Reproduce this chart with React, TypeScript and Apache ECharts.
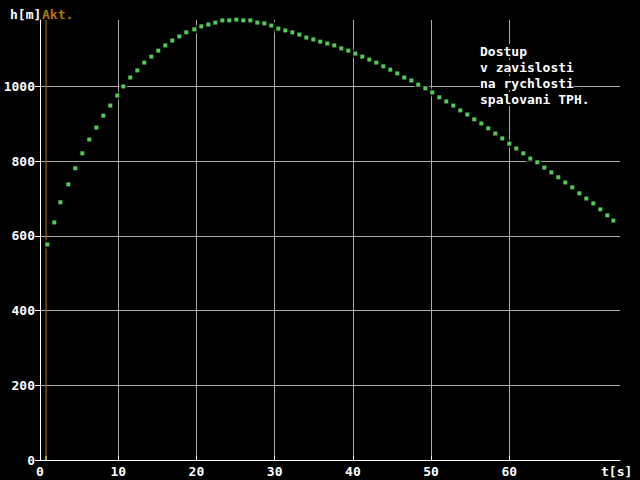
import React, { useEffect, useRef } from "react";
import * as echarts from "echarts";

// time [s] of each sample
const T_VALUES = [
  0.93, 1.83, 2.6, 3.62, 4.51, 5.41, 6.3, 7.2, 8.09, 8.99,
  9.88, 10.65, 11.54, 12.44, 13.33, 14.23, 15.12, 16.02, 16.91, 17.81,
  18.7, 19.73, 20.62, 21.52, 22.41, 23.31, 24.2, 25.1, 25.99, 26.89,
  27.78, 28.68, 29.57, 30.47, 31.36, 32.26, 33.15, 34.05, 34.94, 35.83,
  36.73, 37.62, 38.52, 39.41, 40.31, 41.2, 42.1, 42.99, 43.89, 44.78,
  45.68, 46.57, 47.47, 48.36, 49.26, 50.15, 51.05, 51.94, 52.84, 53.73,
  54.63, 55.52, 56.42, 57.31, 58.21, 59.1, 60.0, 60.89, 61.79, 62.68,
  63.58, 64.47, 65.37, 66.26, 67.16, 68.05, 68.95, 69.84, 70.74, 71.63,
  72.53, 73.3,
];

// height [m] of each sample
const H_VALUES = [
  577, 636, 690, 738, 781, 821, 858, 890, 922, 949,
  976, 1000, 1024, 1043, 1064, 1080, 1096, 1110, 1123, 1134,
  1145, 1153, 1161, 1166, 1171, 1177, 1177, 1179, 1177, 1177,
  1171, 1169, 1163, 1155, 1150, 1145, 1139, 1131, 1126, 1120,
  1115, 1110, 1102, 1096, 1088, 1080, 1072, 1064, 1054, 1045,
  1035, 1024, 1016, 1005, 995, 984, 971, 960, 949, 936,
  925, 912, 901, 888, 874, 861, 847, 834, 821, 807,
  797, 783, 770, 757, 743, 730, 714, 700, 687, 671,
  655, 641,
];

const X_TICKS = [0, 10, 20, 30, 40, 50, 60];
const Y_TICKS = [0, 200, 400, 600, 800, 1000];
const X_MAX = 74.15;
const Y_MAX = 1178;
const AKT_T = 0.77; // current time marker
const AKT_MARK_H = 11; // yellow foot of the marker

const NOTE_LINES = ["Dostup", "v zavislosti", "na rychlosti", "spalovani TPH."];

const FONT = 'bold 13px "DejaVu Sans Mono", "Liberation Mono", monospace';
const GREEN = "#66ff66";
const ORANGE = "#b4740c";
const YELLOW = "#ffff55";
const GRAY = "#aaaaaa";
const WHITE = "#ffffff";

export default function App() {
  const ref = useRef<HTMLDivElement>(null);

  useEffect(() => {
    if (!ref.current) return;
    const chart = echarts.init(ref.current, null, {
      renderer: "svg",
      width: 640,
      height: 480,
    });

    const points = T_VALUES.map((t, i) => [t, H_VALUES[i]]);
    const textStyleBase = {
      fontFamily: '"DejaVu Sans Mono", "Liberation Mono", monospace',
      fontWeight: "bold" as const,
      fontSize: 13,
      color: WHITE,
    };
    const plain = (v: number) => String(v);

    const option: any = {
      animation: false,
      backgroundColor: "#000000",
      grid: {
        left: 40,
        right: 20,
        top: 20,
        bottom: 20,
        containLabel: false,
        outerBoundsMode: "none",
      },
      xAxis: {
        type: "value",
        min: 0,
        max: X_MAX,
        interval: 10,
        axisLine: { show: true, onZero: false, lineStyle: { color: WHITE, width: 1 } },
        axisTick: {
          show: true,
          inside: true,
          length: 4,
          customValues: X_TICKS,
          lineStyle: { color: WHITE, width: 1 },
        },
        axisLabel: {
          ...textStyleBase,
          margin: 5,
          customValues: X_TICKS,
          formatter: plain,
        },
        splitLine: {
          show: true,
          showMinLine: false,
          lineStyle: { color: GRAY, width: 1 },
        },
      },
      yAxis: {
        type: "value",
        min: 0,
        max: Y_MAX,
        interval: 200,
        axisLine: { show: true, onZero: false, lineStyle: { color: WHITE, width: 1 } },
        axisTick: {
          show: true,
          inside: false,
          length: 5,
          customValues: Y_TICKS,
          lineStyle: { color: WHITE, width: 1 },
        },
        axisLabel: {
          ...textStyleBase,
          margin: 5,
          customValues: Y_TICKS,
          formatter: plain,
        },
        splitLine: {
          show: true,
          showMinLine: false,
          lineStyle: { color: GRAY, width: 1 },
        },
      },
      series: [
        {
          type: "line",
          name: "Akt.",
          data: [
            [AKT_T, 0],
            [AKT_T, Y_MAX],
          ],
          symbol: "none",
          z: 1,
          lineStyle: { color: ORANGE, width: 1 },
          silent: true,
        },
        {
          type: "line",
          name: "Akt. foot",
          data: [
            [AKT_T, 0],
            [AKT_T, AKT_MARK_H],
          ],
          symbol: "none",
          z: 1,
          lineStyle: { color: YELLOW, width: 1 },
          silent: true,
        },
        {
          type: "scatter",
          name: "shadow",
          data: points,
          symbol: "rect",
          symbolSize: 8,
          clip: false,
          z: 3,
          itemStyle: { color: "#000000" },
          silent: true,
        },
        {
          type: "scatter",
          name: "h",
          data: points,
          symbol: "rect",
          symbolSize: 4,
          clip: false,
          z: 4,
          itemStyle: { color: GREEN },
          silent: true,
        },
      ],
      graphic: [
        {
          type: "text",
          x: 10,
          y: 14,
          z: 10,
          style: { text: "h[m]", font: FONT, fill: WHITE, align: "left", verticalAlign: "middle" },
        },
        {
          type: "text",
          x: 42,
          y: 14,
          z: 10,
          style: { text: "Akt.", font: FONT, fill: ORANGE, align: "left", verticalAlign: "middle" },
        },
        {
          type: "text",
          x: 601,
          y: 471,
          z: 10,
          style: { text: "t[s]", font: FONT, fill: WHITE, align: "left", verticalAlign: "middle" },
        },
        ...NOTE_LINES.map((line, i) => ({
          type: "text",
          x: 480,
          y: 51 + i * 16,
          z: 10,
          style: {
            text: line,
            font: FONT,
            fill: WHITE,
            align: "left",
            verticalAlign: "middle",
            backgroundColor: "#000000",
            padding: [1, 0, 0, 0],
          },
        })),
      ],
    };

    chart.setOption(option);
    return () => chart.dispose();
  }, []);

  return (
    <div
      ref={ref}
      style={{
        position: "fixed",
        left: 0,
        top: 0,
        width: 640,
        height: 480,
        background: "#000000",
      }}
    />
  );
}
